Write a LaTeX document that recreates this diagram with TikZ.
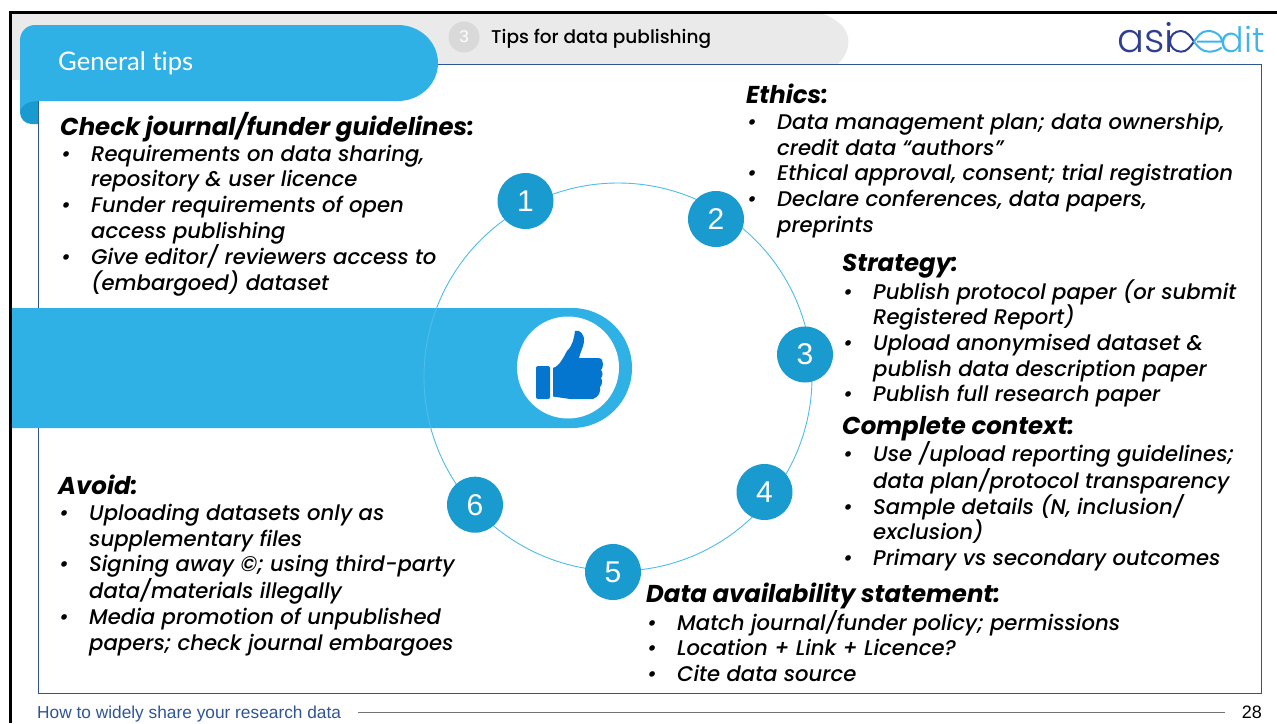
\documentclass[tikz,border=0pt]{standalone}
\usepackage{fontspec}
\usetikzlibrary{positioning}
\setmainfont{Poppins}[ItalicFont={Poppins Medium Italic},BoldItalicFont={Poppins Bold Italic}]
\newfontfamily\tabfont[Ligatures=NoCommon]{Lato}
\newfontfamily\headfont{Poppins Medium}
\newfontfamily\logofont{Poppins Light}
\newfontfamily\footfont{Liberation Sans}
\definecolor{tipblue}{HTML}{2FB1E6}
\definecolor{darkblue}{HTML}{1A9BD0}
\definecolor{thumbblue}{HTML}{0476D0}
\definecolor{framegrey}{HTML}{EAEAEA}
\definecolor{boxblue}{HTML}{2F5597}
\definecolor{logodark}{HTML}{2E3F8F}
\definecolor{logolight}{HTML}{3DB5EC}
\newcommand{\bul}{\makebox[31pt][l]{\hspace{1pt}\textbullet}}
\newcommand{\ind}{\hspace*{31pt}}
\newcommand{\hd}[1]{{\fontsize{24.4}{25.7}\selectfont\bfseries #1}}
\tikzset{
	tipblock/.style={anchor=north west, inner sep=0pt, align=left,
		font=\fontsize{21.2}{25.7}\selectfont\itshape},
	stepdot/.style={circle, fill=darkblue, minimum size=56pt, inner sep=0pt, text=white,
		font=\footfont\fontsize{30}{32}\selectfont},
	footnote/.style={inner sep=0pt, font=\footfont\fontsize{17.3}{19}\selectfont},
	logotext/.style={inner sep=0pt, font=\logofont\fontsize{40}{44}\selectfont}
}

\begin{document}
\begin{tikzpicture}[x=1pt,y=-1pt]
	\useasboundingbox (0,0) rectangle (1277,723);
	% frame and grey header
	\fill[framegrey] (12,14) -- (823,14) .. controls (840,20) and (848,30) .. (848.5,41)
		.. controls (848.5,50) and (844,58) .. (838,64) -- (12,64) -- cycle;
	\fill[framegrey] (12,64) rectangle (38,80);
	\fill[black] (9,11) rectangle (1277,14);
	\fill[black] (9,11) rectangle (12,723);
	\draw[boxblue, fill=white] (38,64) rectangle (1261,693);
	% tab behind the title
	\node[circle, fill=black!15, minimum size=31pt, inner sep=0pt, text=white,
		font=\footfont\fontsize{17}{19}\selectfont] (tabnum) at (464,37) {3};
	\node[anchor=west, inner sep=0pt, font=\headfont\fontsize{18.5}{20}\selectfont] (tabtext) at (491,39) {Tips for data publishing};
	% title banner
	\fill[darkblue] (38,101) -- (38,124) -- (31.5,124) arc[start angle=270, end angle=180, radius=11.5pt] -- (20,101) -- cycle;
	\fill[tipblue] (20,40) arc[start angle=180, end angle=90, radius=15pt]
		-- (398,25) arc[start angle=90, end angle=-90, x radius=40pt, y radius=38pt]
		-- (38,101) .. controls (30,101) and (21,104) .. (20,112) -- cycle;
	\node[anchor=west, inner sep=0pt, text=white, font=\tabfont\fontsize{25.6}{28}\selectfont] (title) at (58,63) {General tips};
	% centre band
	\fill[tipblue] (12,308) -- (572,308) arc[start angle=90, end angle=-90, radius=60pt] -- (12,428) -- cycle;
	\node[circle, fill=white, minimum size=102pt, inner sep=0pt] (thumbdisc) at (568,367.5) {};
	\fill[thumbblue, rounded corners=2pt] (536,366) rectangle (550,399);
	\fill[thumbblue] (553,368) .. controls (560,366) and (564,356) .. (567,351)
		.. controls (573,345) and (574,338) .. (575,331) .. controls (580,329) and (585,335) .. (584,342)
		.. controls (583,348) and (580,353) .. (579,358) -- (598,358) .. controls (602,358) and (603,361) .. (603,364)
		.. controls (603,367) and (602,369) .. (601,370) .. controls (603,372) and (603,376) .. (601,378)
		.. controls (603,381) and (602,385) .. (600,387) .. controls (601,391) and (599,397) .. (593,399)
		-- (570,399) -- (553,396.5) -- cycle;
	% ring with numbered steps
	\node[circle, draw=tipblue!85!white, line width=0.9pt, minimum size=388pt, inner sep=0pt] (ring) at (618,377) {};
	\node[stepdot] (stepa) at (525.5,201) {1};
	\node[stepdot] (stepb) at (716,219) {2};
	\node[stepdot] (stepc) at (805,354.5) {3};
	\node[stepdot] (stepd) at (764.5,492) {4};
	\node[stepdot] (stepe) at (613,572) {5};
	\node[stepdot] (stepf) at (475,504.7) {6};
	% tip blocks
	\node[tipblock] (checkblock) at (60,112) {\hd{Check journal/funder guidelines:}\\
		\bul Requirements on data sharing,\\
		\ind repository \& user licence\\
		\bul Funder requirements of open\\
		\ind access publishing\\
		\bul Give editor/ reviewers access to\\
		\ind (embargoed) dataset};
	\node[tipblock] (ethicsblock) at (746,84) {\hd{Ethics:}\\
		\bul Data management plan; data ownership,\\
		\ind credit data “authors”\\
		\bul Ethical approval, consent; trial registration\\
		\bul Declare conferences, data papers,\\
		\ind preprints};
	\node[tipblock] (strategyblock) at (842,254) {\hd{Strategy:}\\
		\bul Publish protocol paper (or submit\\
		\ind Registered Report)\\
		\bul Upload anonymised dataset \&\\
		\ind publish data description paper\\
		\bul Publish full research paper};
	\node[tipblock] (contextblock) at (842,416) {\hd{Complete context:}\\
		\bul Use /upload reporting guidelines;\\
		\ind data plan/protocol transparency\\
		\bul Sample details (N, inclusion/\\
		\ind exclusion)\\
		\bul Primary vs secondary outcomes};
	\node[tipblock] (avoidblock) at (58,475) {\hd{Avoid:}\\
		\bul Uploading datasets only as\\
		\ind supplementary files\\
		\bul Signing away ©; using third-party\\
		\ind data/materials illegally\\
		\bul Media promotion of unpublished\\
		\ind papers; check journal embargoes};
	\node[tipblock] (datablock) at (646,583) {\hd{Data availability statement:}\\
		\bul Match journal/funder policy; permissions\\
		\bul Location + Link + Licence?\\
		\bul Cite data source};
	% logo
	\node[logotext, text=logodark, anchor=base west] (logoleft) at (1117,52) {asi};
	\node[logotext, text=logolight, anchor=base east, font=\logofont\fontsize{35}{40}\selectfont] (logoright) at (1265,52) {dit};
	\draw[logodark, line width=2pt] (1194,41.7) .. controls (1190,47) and (1187,51.7) .. (1181,51.7)
		.. controls (1175,51.7) and (1170,47) .. (1170,41.7) .. controls (1170,35) and (1175,31) .. (1181,31)
		.. controls (1187,31) and (1191,37) .. (1194,41.7);
	\draw[logolight, line width=2pt] (1194,41.7) .. controls (1198,36) and (1201,31) .. (1208,31)
		.. controls (1216,31) and (1222,36) .. (1222,41.5) -- (1197,41.5);
	\draw[logolight, line width=2pt] (1194,41.7) .. controls (1198,47) and (1202,51.7) .. (1209,51.7)
		.. controls (1214,51.7) and (1219,50) .. (1221.5,47.5);
	% footer
	\node[footnote, text=boxblue, anchor=west] (footnote) at (37,714) {How to widely share your research data};
	\node[footnote, anchor=east, font=\footfont\fontsize{18}{20}\selectfont] (pagenum) at (1262,712) {28};
	\draw[black!55, line width=0.7pt] ([xshift=17pt]footnote.east |- pagenum.west) -- ([xshift=-17pt]pagenum.west);
\end{tikzpicture}
\end{document}
